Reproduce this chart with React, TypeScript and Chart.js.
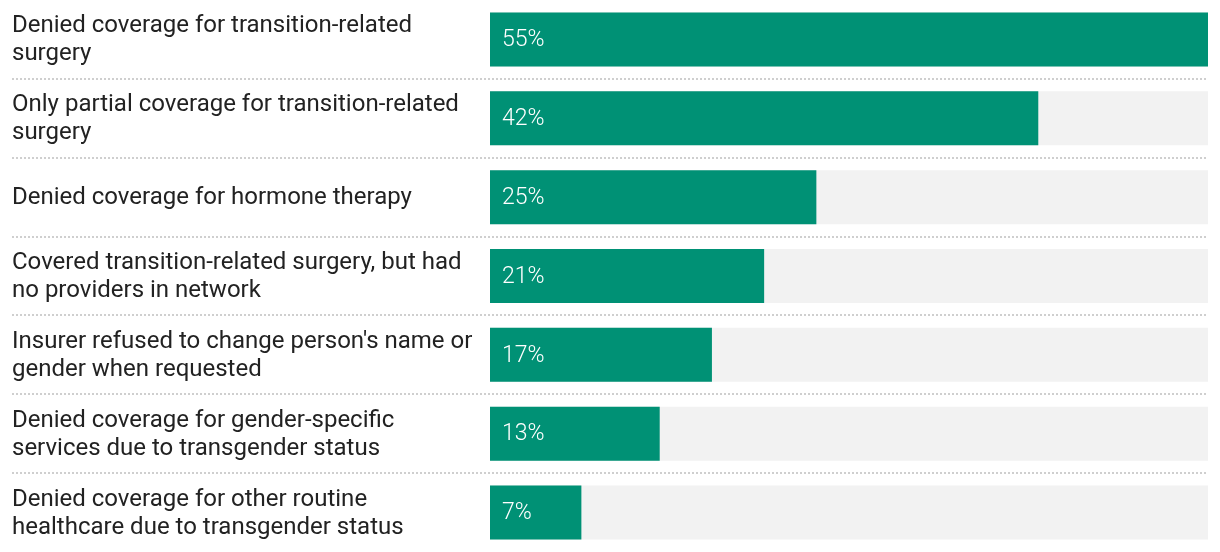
import React, { useEffect, useRef } from "react";
import { Chart, registerables } from "chart.js";

Chart.register(...registerables);

const categories: string[][] = [
  ["Denied coverage for transition-related", "surgery"],
  ["Only partial coverage for transition-related", "surgery"],
  ["Denied coverage for hormone therapy"],
  ["Covered transition-related surgery, but had", "no providers in network"],
  ["Insurer refused to change person's name or", "gender when requested"],
  ["Denied coverage for gender-specific", "services due to transgender status"],
  ["Denied coverage for other routine", "healthcare due to transgender status"],
];
const values: number[] = [55, 42, 25, 21, 17, 13, 7];
const maxValue = 55;
const trackValues: number[] = categories.map(() => maxValue);

const GREEN = "#009175";
const TRACK = "#f2f2f2";
const TEXT = "#222222";
const FONT = "Roboto, 'Noto Sans', sans-serif";

const overlayPlugin = {
  id: "overlay",
  afterDatasetsDraw(chart: any) {
    const ctx = chart.ctx;
    const y = chart.scales.y;
    const area = chart.chartArea;
    const meta = chart.getDatasetMeta(0);
    ctx.save();
    // separators
    ctx.strokeStyle = "#cfcfcf";
    ctx.lineWidth = 2;
    ctx.setLineDash([2, 2]);
    for (let i = 0; i < categories.length - 1; i++) {
      const yy = Math.round((y.getPixelForValue(i) + y.getPixelForValue(i + 1)) / 2);
      ctx.beginPath();
      ctx.moveTo(12, yy);
      ctx.lineTo(area.right, yy);
      ctx.stroke();
    }
    ctx.setLineDash([]);
    // category labels
    ctx.font = `24px ${FONT}`;
    ctx.fillStyle = TEXT;
    ctx.textAlign = "left";
    ctx.textBaseline = "middle";
    const lh = 28;
    categories.forEach((lines, i) => {
      const cy = y.getPixelForValue(i);
      const start = cy - ((lines.length - 1) * lh) / 2;
      lines.forEach((t, j) => ctx.fillText(t, 12, start + j * lh + 1));
    });
    // value labels
    ctx.font = `300 23px ${FONT}`;
    ctx.fillStyle = "#ffffff";
    meta.data.forEach((bar: any, i: number) => {
      ctx.fillText(`${values[i]}%`, bar.base + 12, bar.y + 1);
    });
    ctx.restore();
  },
};

export default function App() {
  const ref = useRef<HTMLCanvasElement | null>(null);
  useEffect(() => {
    document.body.style.margin = "0";
    if (!ref.current) return;
    const chart = new Chart(ref.current, {
      type: "bar",
      data: {
        labels: categories.map((c) => c.join(" ")),
        datasets: [
          {
            data: values,
            backgroundColor: GREEN,
            grouped: false,
            barPercentage: 0.685,
            categoryPercentage: 1,
          } as any,
          {
            data: trackValues,
            backgroundColor: TRACK,
            grouped: false,
            barPercentage: 0.685,
            categoryPercentage: 1,
          } as any,
        ],
      },
      options: {
        indexAxis: "y",
        animation: false,
        responsive: true,
        maintainAspectRatio: false,
        layout: { padding: { left: 490, right: 12, top: 0, bottom: 0 } },
        plugins: { legend: { display: false }, tooltip: { enabled: false } },
        scales: {
          x: { display: false, min: 0, max: maxValue },
          y: { display: false },
        },
      },
      plugins: [overlayPlugin],
    });
    return () => chart.destroy();
  }, []);
  return (
    <div style={{ width: 1220, height: 552, position: "relative" }}>
      <canvas ref={ref} />
    </div>
  );
}
